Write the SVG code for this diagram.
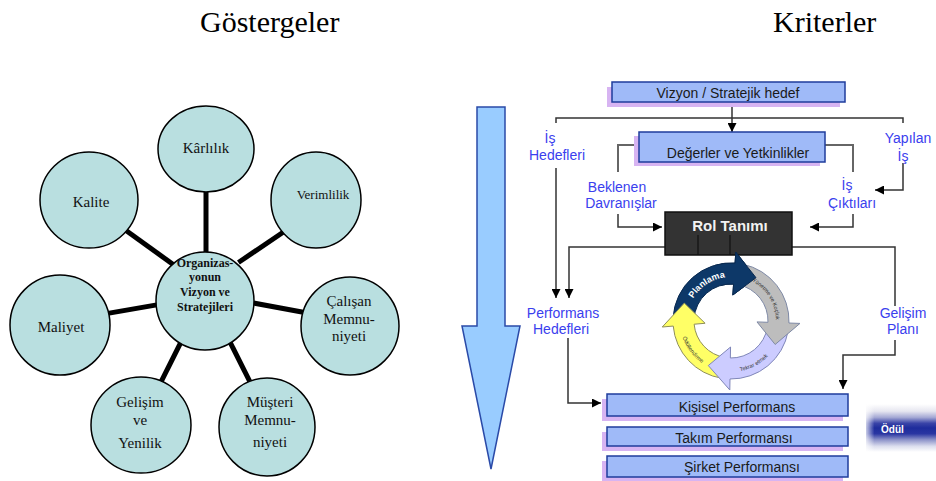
<svg xmlns="http://www.w3.org/2000/svg" width="936" height="481" viewBox="0 0 936 481">
  <defs>
    <style>
      .title { font-family: "Liberation Serif", serif; font-size: 30px; fill: #000; }
      .spoke { stroke: #000; stroke-width: 5; }
      .circle { fill: #b9dfe0; stroke: #000; stroke-width: 1.5; }
      .ct { font-family: "Liberation Serif", serif; font-size: 15px; fill: #111; text-anchor: middle; }
      .cc { font-family: "Liberation Serif", serif; font-size: 12px; font-weight: bold; fill: #111; text-anchor: middle; }
      .box { fill: #9fbaf8; stroke: #1f3c9c; stroke-width: 1.5; }
      .shadow { fill: #d7b4f2; }
      .bt { font-family: "Liberation Sans", Arial, sans-serif; font-size: 14px; fill: #1a1a1a; text-anchor: middle; }
      .lbl { font-family: "Liberation Sans", Arial, sans-serif; font-size: 14px; fill: #3a40ee; text-anchor: middle; }
      .conn { stroke: #333; stroke-width: 1.5; fill: none; }
      .brk { stroke: #666; stroke-width: 2; fill: none; }
      .cyc { stroke-width: 1; stroke-linejoin: round; }
      .cyt { font-family: "Liberation Sans", Arial, sans-serif; font-size: 5.5px; fill: #333; }
    </style>
    <marker id="ah" viewBox="0 0 10 10" refX="10" refY="5" markerWidth="10" markerHeight="9" markerUnits="userSpaceOnUse" orient="auto">
      <path d="M0,0 L10,5 L0,10 Z" fill="#000"/>
    </marker>
    <linearGradient id="odul" x1="0" y1="0" x2="0" y2="1">
      <stop offset="0" stop-color="#ffffff"/>
      <stop offset="0.15" stop-color="#e6e6f0"/>
      <stop offset="0.28" stop-color="#a4a8d4"/>
      <stop offset="0.4" stop-color="#3a44a8"/>
      <stop offset="0.5" stop-color="#1e2c9c"/>
      <stop offset="0.62" stop-color="#2a36a2"/>
      <stop offset="0.74" stop-color="#8a90c8"/>
      <stop offset="0.88" stop-color="#dcdeee"/>
      <stop offset="1" stop-color="#ffffff"/>
    </linearGradient>
    <linearGradient id="odulfade" x1="0" y1="0" x2="1" y2="0">
      <stop offset="0" stop-color="#ffffff" stop-opacity="0.75"/>
      <stop offset="0.12" stop-color="#ffffff" stop-opacity="0"/>
    </linearGradient>
    <!-- baselines for the cycle labels -->
    <path id="tpPlan" d="M691.12,302.41 A44,44 0 0 1 729.46,277.03"/>
    <path id="tpYon" d="M752.13,281.27 A45,45 0 0 1 775.97,319.43"/>
    <path id="tpTek" d="M732.78,371.97 A51,51 0 0 0 772.78,350.25"/>
    <path id="tpOdul" d="M680.03,322.78 A51,51 0 0 0 715.24,369.51"/>
  </defs>

  <rect width="936" height="481" fill="#fff"/>

  <!-- headings -->
  <text class="title" x="200" y="32">Göstergeler</text>
  <text class="title" x="773" y="32">Kriterler</text>

  <!-- ===== indicator cluster ===== -->
  <g id="spokes">
    <line class="spoke" x1="206" y1="185" x2="206" y2="258"/>
    <line class="spoke" x1="238.4" y1="262.5" x2="288.6" y2="228.5"/>
    <line class="spoke" x1="121.5" y1="227.3" x2="173.5" y2="264.7"/>
    <line class="spoke" x1="245" y1="301.5" x2="310" y2="313.5"/>
    <line class="spoke" x1="102" y1="314.4" x2="164" y2="303.6"/>
    <line class="spoke" x1="186.6" y1="330.8" x2="159.4" y2="385.2"/>
    <line class="spoke" x1="224.4" y1="330.8" x2="251.6" y2="385.2"/>
  </g>

  <g id="karlilik">
    <ellipse class="circle" cx="206" cy="149" rx="48" ry="43"/>
    <text class="ct" x="206" y="153">Kârlılık</text>
  </g>
  <g id="verimlilik">
    <ellipse class="circle" cx="316" cy="200" rx="45" ry="48"/>
    <text class="ct" x="323" y="199" style="font-size:13px">Verimlilik</text>
  </g>
  <g id="kalite">
    <ellipse class="circle" cx="89" cy="200" rx="49" ry="48"/>
    <text class="ct" x="91" y="207">Kalite</text>
  </g>
  <g id="merkez">
    <ellipse class="circle" cx="205" cy="301" rx="49" ry="49"/>
    <text class="cc" x="205" y="267">Organizas-</text>
    <text class="cc" x="205" y="281">yonun</text>
    <text class="cc" x="205" y="296">Vizyon ve</text>
    <text class="cc" x="205" y="311">Stratejileri</text>
  </g>
  <g id="calisan">
    <ellipse class="circle" cx="350" cy="326" rx="49" ry="49"/>
    <text class="ct" x="349" y="306">Çalışan</text>
    <text class="ct" x="349" y="324">Memnu-</text>
    <text class="ct" x="349" y="341">niyeti</text>
  </g>
  <g id="maliyet">
    <ellipse class="circle" cx="60" cy="325" rx="50" ry="50"/>
    <text class="ct" x="61" y="332">Maliyet</text>
  </g>
  <g id="gelisim">
    <ellipse class="circle" cx="141" cy="425" rx="50" ry="48"/>
    <text class="ct" x="140" y="407">Gelişim</text>
    <text class="ct" x="140" y="425">ve</text>
    <text class="ct" x="140" y="448">Yenilik</text>
  </g>
  <g id="musteri">
    <ellipse class="circle" cx="267" cy="427" rx="48" ry="49"/>
    <text class="ct" x="270" y="407">Müşteri</text>
    <text class="ct" x="270" y="425">Memnu-</text>
    <text class="ct" x="270" y="447">niyeti</text>
  </g>

  <!-- ===== criteria flow ===== -->
  <g id="buyuk-ok">
    <path d="M477,107 H505 V326 H520 L491,469 L462,326 H477 Z" fill="#99ccff" stroke="#2a4aa8" stroke-width="1.5"/>
  </g>

  <g id="connectors">
    <!-- top bracket under the vision box -->
    <path class="conn" d="M556,123 V118 H903 V123"/>
    <line class="conn" x1="732" y1="102" x2="732" y2="132" marker-end="url(#ah)"/>
    <!-- brackets beside values box -->
    <path class="brk" d="M635,145 H618 V172"/>
    <path class="brk" d="M825,145 H853 V172"/>
    <!-- into role box -->
    <path class="conn" d="M618,214 V227 H662" marker-end="url(#ah)"/>
    <path class="conn" d="M853,214 V227 H810" marker-end="url(#ah)"/>
    <path class="conn" d="M903,163 V190 H875" marker-end="url(#ah)"/>
    <!-- down to performance goals -->
    <path class="conn" d="M556,168 V298" marker-end="url(#ah)"/>
    <path class="conn" d="M665,247 H569 V298" marker-end="url(#ah)"/>
    <!-- down to development plan -->
    <path class="conn" d="M792,247 H895 V306"/>
    <path class="conn" d="M895,340 V355 H843 V389" marker-end="url(#ah)"/>
    <!-- performance goals to individual performance -->
    <path class="conn" d="M568,338 V403 H601" marker-end="url(#ah)"/>
  </g>

  <g id="vizyon">
    <rect class="shadow" x="607" y="87" width="233" height="20"/>
    <rect class="box" x="612" y="82" width="233" height="20"/>
    <text class="bt" x="728" y="98">Vizyon / Stratejik hedef</text>
  </g>
  <g id="degerler">
    <rect class="shadow" x="634" y="136" width="186" height="30"/>
    <rect class="box" x="639" y="132" width="186" height="30"/>
    <text class="bt" x="738" y="158">Değerler ve Yetkinlikler</text>
  </g>

  <g id="etiketler">
    <text class="lbl" x="550" y="143">İş</text>
    <text class="lbl" x="557" y="160">Hedefleri</text>
    <text class="lbl" x="908" y="143">Yapılan</text>
    <text class="lbl" x="903" y="161">İş</text>
    <text class="lbl" x="617" y="192">Beklenen</text>
    <text class="lbl" x="621" y="208">Davranışlar</text>
    <text class="lbl" x="847" y="190">İş</text>
    <text class="lbl" x="852" y="208">Çıktıları</text>
    <text class="lbl" x="563" y="318">Performans</text>
    <text class="lbl" x="561" y="334">Hedefleri</text>
    <text class="lbl" x="903" y="318">Gelişim</text>
    <text class="lbl" x="903" y="334">Planı</text>
  </g>

  <g id="rol-tanimi">
    <rect x="665" y="212" width="127" height="43" fill="#333" stroke="#111" stroke-width="1.5"/>
    <line x1="698" y1="235" x2="698" y2="255" stroke="#111" stroke-width="1.2"/>
    <line x1="730" y1="235" x2="730" y2="255" stroke="#111" stroke-width="1.2"/>
    <text x="730" y="231" font-family="Liberation Sans, Arial, sans-serif" font-size="15" font-weight="bold" fill="#f2f2f2" text-anchor="middle">Rol Tanımı</text>
  </g>

  <!-- management cycle: four curved arrows -->
  <g id="dongu">
    <path class="cyc" fill="#0d3868" stroke="#0a2a50" d="M673.08,317.97 A58,58 0 0 1 735.05,263.14 L735.82,252.17 L756,277.70 L732.81,295.06 L733.58,284.09 A37,37 0 0 0 694.05,319.06 Z"/>
    <path class="cyc" fill="#ffff66" stroke="#8e8e5a" d="M721.93,378.29 A58,58 0 0 1 673.22,326.06 L662.26,327.02 L684.32,303.08 L705.10,323.27 L694.14,324.23 A37,37 0 0 0 725.21,357.54 Z"/>
    <path class="cyc" fill="#ccccff" stroke="#7f86b8" d="M788.12,331.07 A58,58 0 0 1 729.99,378.99 L729.80,389.99 L708.30,365.55 L730.55,347.00 L730.35,357.99 A37,37 0 0 0 767.44,327.42 Z"/>
    <path class="cyc" fill="#bdbdbd" stroke="#7f8aa6" d="M743.06,264.27 A58,58 0 0 1 788.97,323.02 L799.96,323.41 L775.15,344.48 L756.98,321.91 L767.98,322.29 A37,37 0 0 0 738.69,284.81 Z"/>
    <!-- planning arrowhead laid over the start of the coaching arrow -->
    <path fill="#0d3868" d="M715.02,265.24 A58,58 0 0 1 735.05,263.14 L735.82,252.17 L756,277.70 L732.81,295.06 L733.58,284.09 A37,37 0 0 0 720.80,285.43 Z"/>
    <path class="cyc" fill="none" stroke="#0a2a50" d="M715.02,265.24 A58,58 0 0 1 735.05,263.14 L735.82,252.17 L756,277.70 L732.81,295.06 L733.58,284.09 A37,37 0 0 0 720.80,285.43"/>
    <text font-family="Liberation Sans, Arial, sans-serif" font-size="9" font-weight="bold" fill="#fff"><textPath href="#tpPlan" startOffset="50%" text-anchor="middle">Planlama</textPath></text>
    <text class="cyt"><textPath href="#tpYon" startOffset="50%" text-anchor="middle">Yönetme ve Koçluk</textPath></text>
    <text class="cyt"><textPath href="#tpTek" startOffset="50%" text-anchor="middle">Tekrar etmek</textPath></text>
    <text class="cyt"><textPath href="#tpOdul" startOffset="50%" text-anchor="middle">Ödüllendirme</textPath></text>
  </g>

  <g id="kisisel">
    <rect class="shadow" x="602" y="399" width="241" height="22"/>
    <rect class="box" x="607" y="394" width="241" height="22"/>
    <text class="bt" x="737" y="412">Kişisel Performans</text>
  </g>
  <g id="takim">
    <rect class="shadow" x="602" y="432" width="241" height="19"/>
    <rect class="box" x="607" y="427" width="241" height="19"/>
    <text class="bt" x="734" y="443">Takım Performansı</text>
  </g>
  <g id="sirket">
    <rect class="shadow" x="602" y="461" width="241" height="21"/>
    <rect class="box" x="607" y="456" width="241" height="21"/>
    <text class="bt" x="742" y="472">Şirket Performansı</text>
  </g>

  <g id="odul-kutusu">
    <rect x="866" y="404" width="70" height="48" fill="url(#odul)"/>
    <rect x="866" y="404" width="70" height="48" fill="url(#odulfade)"/>
    <text x="881" y="433" font-family="Liberation Sans, Arial, sans-serif" font-size="10" font-weight="bold" fill="#fff">Ödül</text>
  </g>
</svg>
